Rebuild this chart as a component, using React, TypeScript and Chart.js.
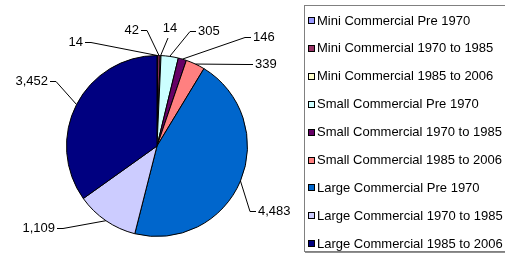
import React, { useEffect, useRef } from "react";
import { Chart, registerables } from "chart.js";

Chart.register(...registerables);

const categories = [
  "Mini Commercial Pre 1970",
  "Mini Commercial 1970 to 1985",
  "Mini Commercial 1985 to 2006",
  "Small Commercial Pre 1970",
  "Small Commercial 1970 to 1985",
  "Small Commercial 1985 to 2006",
  "Large Commercial Pre 1970",
  "Large Commercial 1970 to 1985",
  "Large Commercial 1985 to 2006",
];

const values = [14, 42, 14, 305, 146, 339, 4483, 1109, 3452];

const colors = [
  "#9999FF",
  "#993366",
  "#FFFFCC",
  "#CCFFFF",
  "#660066",
  "#FF8080",
  "#0066CC",
  "#CCCCFF",
  "#000080",
];

// label placement relative to pie centre (layout, not data)
const labelLayout = [
  { dx: -74, dy: -104, align: "right" },
  { dx: -18, dy: -116, align: "right" },
  { dx: 13, dy: -118, align: "top" },
  { dx: 41, dy: -115, align: "left" },
  { dx: 96, dy: -109, align: "left" },
  { dx: 98, dy: -82, align: "left" },
  { dx: 101, dy: 65, align: "left" },
  { dx: -102, dy: 82, align: "right" },
  { dx: -109, dy: -65, align: "right" },
];

const FONT = "13px 'Liberation Sans', Arial, sans-serif";

const labelsPlugin = {
  id: "leaderLabels",
  afterDatasetsDraw(chart: any) {
    const ctx = chart.ctx;
    const meta = chart.getDatasetMeta(0);
    const data = chart.data.datasets[0].data as number[];
    ctx.save();
    ctx.font = FONT;
    ctx.fillStyle = "#000";
    ctx.strokeStyle = "#000";
    ctx.lineWidth = 1;
    meta.data.forEach((arc: any, i: number) => {
      const { x, y, startAngle, endAngle, outerRadius } = arc.getProps(
        ["x", "y", "startAngle", "endAngle", "outerRadius"],
        true
      );
      const mid = (startAngle + endAngle) / 2;
      const ax = x + outerRadius * Math.cos(mid);
      const ay = y + outerRadius * Math.sin(mid);
      const lay = labelLayout[i];
      const tx = x + lay.dx;
      const ty = y + lay.dy;
      const text = data[i].toLocaleString("en-US");
      ctx.textBaseline = "middle";
      ctx.beginPath();
      if (lay.align === "left") {
        ctx.textAlign = "left";
        ctx.fillText(text, tx, ty);
        ctx.moveTo(tx - 2, ty + 0.5);
        ctx.lineTo(tx - 8, ty + 0.5);
        ctx.lineTo(ax, ay);
      } else if (lay.align === "right") {
        ctx.textAlign = "right";
        ctx.fillText(text, tx, ty);
        ctx.moveTo(tx + 2, ty + 0.5);
        ctx.lineTo(tx + 8, ty + 0.5);
        ctx.lineTo(ax, ay);
      } else {
        ctx.textAlign = "center";
        ctx.fillText(text, tx, ty);
        ctx.moveTo(tx - 2, ty + 10);
        ctx.lineTo(ax, ay);
      }
      ctx.stroke();
    });
    ctx.restore();
  },
};

const legendPlugin = {
  id: "boxLegend",
  afterDraw(chart: any) {
    const ctx = chart.ctx;
    const labels = chart.data.labels as string[];
    const bg = chart.data.datasets[0].backgroundColor as string[];
    ctx.save();
    ctx.strokeStyle = "#808080";
    ctx.lineWidth = 1;
    ctx.strokeRect(304.5, 5.5, 205, 246);
    ctx.fillStyle = "#909090";
    ctx.fillRect(305, 252, 200, 1);
    ctx.font = FONT;
    ctx.textBaseline = "middle";
    ctx.textAlign = "left";
    labels.forEach((lab, i) => {
      const cy = 20 + i * 27.9;
      ctx.fillStyle = bg[i];
      ctx.fillRect(308, Math.round(cy) - 3, 7, 7);
      ctx.strokeStyle = "#000";
      ctx.strokeRect(308.5, Math.round(cy) - 2.5, 6, 6);
      ctx.fillStyle = "#000";
      ctx.fillText(lab, 317, cy + 1);
    });
    ctx.restore();
  },
};

export default function App() {
  const ref = useRef<HTMLCanvasElement>(null);
  useEffect(() => {
    if (!ref.current) return;
    const chart = new Chart(ref.current, {
      type: "pie",
      data: {
        labels: categories,
        datasets: [
          {
            data: values,
            backgroundColor: colors,
            borderColor: "#000",
            borderWidth: 1,
          },
        ],
      },
      options: {
        responsive: false,
        animation: false,
        layout: { padding: { left: 66, right: 257, top: 55, bottom: 19 } },
        plugins: {
          legend: { display: false },
          tooltip: { enabled: false },
        },
      },
      plugins: [labelsPlugin, legendPlugin],
    });
    return () => chart.destroy();
  }, []);
  return (
    <div style={{ position: "absolute", left: 0, top: 0, width: 505, height: 256, background: "#fff" }}>
      <canvas ref={ref} width={505} height={256} />
    </div>
  );
}
